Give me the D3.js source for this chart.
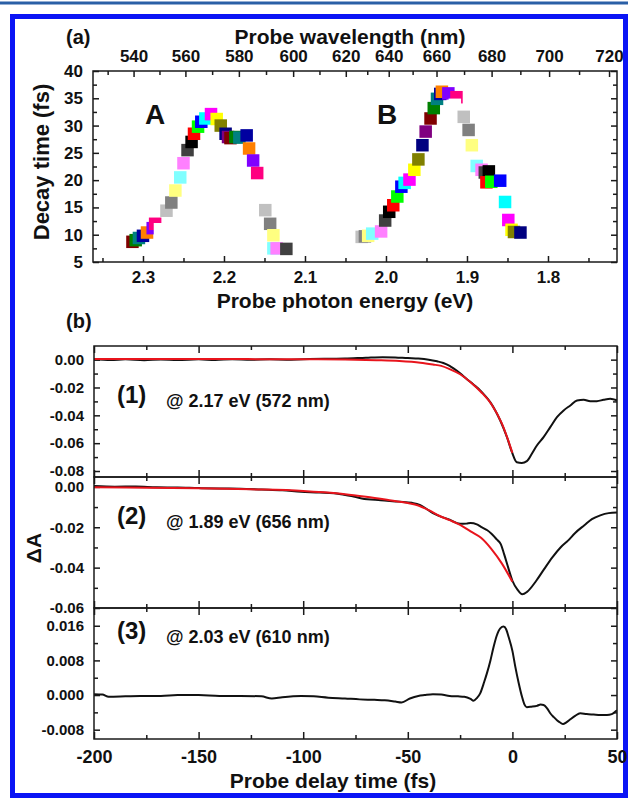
<!DOCTYPE html>
<html>
<head>
<meta charset="utf-8">
<script src="https://cdn.jsdelivr.net/npm/d3@7"></script>
<style>
  body { margin: 0; background: #fff; }
  svg text { font-family: "Liberation Sans", Arial, sans-serif; font-weight: bold; fill: #111; }
</style>
</head>
<body>
<div id="chart"></div>
<script>
// ---- panel (a): decay time vs probe photon energy ----
const energyA = [2.313, 2.309, 2.305, 2.300, 2.295, 2.288, 2.285, 2.279, 2.271, 2.265, 2.260, 2.254, 2.250,
  2.245, 2.240, 2.237, 2.232, 2.228, 2.223, 2.216, 2.209, 2.204, 2.198, 2.195, 2.192, 2.186, 2.181,
  2.172, 2.169, 2.164, 2.159, 2.153, 2.149, 2.143, 2.139, 2.139, 2.135, 2.123];
const decayA = [8.7, 9.0, 9.4, 9.8, 10.4, 11.2, 12.0, 11.0, 14.4, 15.9, 18.1, 20.5, 23.1,
  25.5, 27.0, 28.5, 29.8, 30.7, 31.3, 32.1, 31.2, 30.0, 28.5, 27.9, 27.7, 27.9, 27.8,
  28.2, 25.8, 23.6, 21.3, 18.0, 14.5, 12.0, 9.9, 7.5, 7.5, 7.4];
const energyB = [2.030, 2.026, 2.022, 2.017, 2.006, 2.001, 1.996, 1.991, 1.986, 1.981, 1.977, 1.971, 1.965,
  1.960, 1.955, 1.951, 1.945, 1.941, 1.937, 1.933, 1.931, 1.923, 1.913, 1.915, 1.904, 1.898, 1.894,
  1.888, 1.882, 1.878, 1.873, 1.876, 1.870, 1.859, 1.853, 1.849, 1.845, 1.842, 1.834];
const decayB = [9.6, 9.7, 9.8, 10.2, 10.6, 12.6, 14.2, 15.4, 17.0, 18.8, 19.5, 20.1, 21.9,
  23.8, 26.4, 28.9, 31.3, 33.2, 34.9, 35.8, 36.2, 35.9, 35.2, 33.8, 31.6, 29.2, 26.4,
  22.6, 21.9, 21.4, 21.6, 19.6, 19.7, 19.9, 16.0, 12.7, 10.9, 10.5, 10.4];

const energyTicks = [2.3, 2.2, 2.1, 2.0, 1.9, 1.8];
const decayTicks = [5, 10, 15, 20, 25, 30, 35, 40];
const wavelengthTicks = [540, 560, 580, 600, 620, 640, 660, 680, 700, 720];
// photon energy under each wavelength label, as placed on the top axis
const wavelengthTickEnergy = [2.311, 2.247, 2.181, 2.114, 2.049, 1.996, 1.937, 1.869, 1.798, 1.724];

// ---- panel (b): transient absorption traces, [delay (fs), dA] ----
const delayTicks = [-200, -150, -100, -50, 0, 50];
const trace1Black = [[-200, 0.0003], [-192, -0.0002], [-185, 0.0002], [-176, -0.0004], [-168, 0.0001], [-160, -0.0003],
  [-150, 0.0002], [-142, -0.0002], [-134, 0.0003], [-125, -0.0001], [-116, 0.0002], [-108, 0], [-100, 0.0003],
  [-90, 0.0006], [-80, 0.0008], [-70, 0.0014], [-62, 0.0018], [-56, 0.0016], [-50, 0.0011], [-45, 0.0008],
  [-40, 0], [-36, -0.0012], [-33, -0.0024], [-30, -0.0045], [-28, -0.0065], [-25, -0.0098], [-22, -0.0137],
  [-18.5, -0.018], [-15.4, -0.0221], [-13, -0.026], [-10.6, -0.0305], [-8, -0.037], [-5.8, -0.0437],
  [-2.6, -0.0557], [-0.2, -0.0665], [2.1, -0.0737], [4.5, -0.0742], [6.9, -0.0729], [9.3, -0.0676],
  [11.7, -0.0617], [14.9, -0.0557], [18.1, -0.0485], [21.3, -0.0413], [24.5, -0.0365], [27.7, -0.0329],
  [30.9, -0.0293], [34.1, -0.0288], [37.2, -0.0298], [40.4, -0.0298], [43.6, -0.0288], [46.8, -0.0281], [50, -0.0293]];
const trace1Fit = [[-200, 0.0004], [-150, 0.0004], [-100, 0.0003], [-80, 0.0001], [-65, -0.0004], [-54, -0.001],
  [-44, -0.0022], [-38, -0.0035], [-34, -0.0045], [-30, -0.0068], [-25, -0.0105], [-20, -0.0162],
  [-15, -0.0232], [-10, -0.032], [-5, -0.046], [0, -0.067]];
const trace2Black = [[-200, 0.0004], [-190, 0.0001], [-180, 0.0002], [-170, -0.0002], [-160, -0.0003], [-150, -0.0006],
  [-140, -0.0008], [-130, -0.0009], [-120, -0.0013], [-110, -0.0017], [-101, -0.0024], [-92, -0.0028],
  [-82, -0.0036], [-76, -0.0048], [-72, -0.0057], [-63, -0.0066], [-54, -0.0073], [-48, -0.0079],
  [-44, -0.009], [-38, -0.013], [-30, -0.0163], [-25, -0.0183], [-22, -0.0182], [-20, -0.0179],
  [-17, -0.0186], [-15, -0.0198], [-12, -0.0215], [-10, -0.0232], [-7.5, -0.026], [-5.5, -0.0285],
  [-4, -0.0332], [-2, -0.040], [0, -0.0465], [2.5, -0.051], [4.7, -0.0532], [7, -0.052], [11.4, -0.0465],
  [15, -0.041], [19.1, -0.0349], [23, -0.030], [26.7, -0.0265], [30, -0.0228], [34.4, -0.019],
  [38, -0.016], [42, -0.0141], [46, -0.013], [50, -0.0127]];
const trace2Fit = [[-200, -0.0002], [-175, -0.0004], [-150, -0.0007], [-125, -0.0012], [-100, -0.002], [-90, -0.0027],
  [-80, -0.0036], [-70, -0.0049], [-60, -0.0064], [-50, -0.008], [-45, -0.0092], [-40, -0.0115],
  [-35, -0.0143], [-30, -0.0165], [-25, -0.0188], [-20, -0.022], [-15, -0.0252], [-10, -0.0308],
  [-5, -0.038], [0, -0.047]];
const trace3Black = [[-200, 0.0002], [-196, 0.0001], [-193, -0.0004], [-185, -0.0003], [-178, -0.0002], [-168, -0.0002],
  [-160, 0], [-150, 0], [-140, -0.0002], [-130, -0.0002], [-120, -0.0003], [-115, -0.0008], [-110, -0.0005],
  [-101, -0.0002], [-95, -0.0003], [-88, -0.0006], [-80, -0.0008], [-73, -0.001], [-66, -0.0011],
  [-61, -0.0012], [-56, -0.0015], [-53, -0.0017], [-49, -0.0008], [-45, -0.0002], [-42, 0], [-38, 0.0002],
  [-34, 0.0001], [-30, -0.0002], [-26, -0.0003], [-23, -0.0004], [-20, -0.0009], [-18.6, -0.0013],
  [-17, -0.0007], [-15.4, 0.0004], [-13.5, 0.003], [-12.2, 0.005], [-10.5, 0.008], [-9, 0.0111],
  [-7.5, 0.0137], [-5.8, 0.0154], [-4.2, 0.0158], [-3, 0.0152], [-1.8, 0.0134], [0, 0.0102], [1.4, 0.0065],
  [3, 0.0028], [4.6, -0.0004], [5.8, -0.0022], [6.9, -0.0028], [9, -0.0027], [11.7, -0.0025],
  [13.5, -0.0022], [14.9, -0.0023], [16.5, -0.003], [18.1, -0.0042], [19.8, -0.0051], [21.3, -0.0058],
  [23, -0.0064], [24.2, -0.0067], [25.8, -0.0063], [27.7, -0.0056], [30, -0.0048], [32.4, -0.0042],
  [35.5, -0.0044], [38.8, -0.0045], [42, -0.0046], [45.2, -0.0046], [47.5, -0.0044], [49.2, -0.0038], [50, -0.0035]];

const panelLabels = ["(1)", "(2)", "(3)"];
const panelNotes = ["@ 2.17 eV (572 nm)", "@ 1.89 eV (656 nm)", "@ 2.03 eV (610 nm)"];
const panelDomains = [[-0.0843, 0.0098], [-0.06, 0.0049], [-0.01015, 0.0201]];
const panelMajor = [[0, -0.02, -0.04, -0.06, -0.08], [0, -0.02, -0.04, -0.06], [0.016, 0.008, 0, -0.008]];
const panelMinor = [[-0.01, -0.03, -0.05, -0.07], [-0.01, -0.03, -0.05], [0.012, 0.004, -0.004]];

// Origin default colour cycle used for the squares
const originColors = ["#000000", "#ff0000", "#00ff00", "#0000ff", "#00ffff", "#ff00ff", "#ffff00", "#808000",
  "#000080", "#800080", "#800000", "#008000", "#008080", "#0000a0", "#ff8000", "#8000ff",
  "#ff0080", "#ffffff", "#c0c0c0", "#808080", "#ffff80", "#80ffff", "#ff80ff", "#404040"];
const colorStartA = 10, colorStartB = 18;

const W = 628, H = 799;
const ink = "#1a1a1a";
const minus = (s) => s.replace("\u2212", "-");

const svg = d3.select("#chart").append("svg").attr("width", W).attr("height", H);

// outer frame
svg.append("line").attr("x1", 0).attr("x2", W).attr("y1", 3).attr("y2", 3)
  .attr("stroke", "#2a5fa6").attr("stroke-width", 3);
svg.append("rect").attr("x", 12.5).attr("y", 16.5).attr("width", 613).attr("height", 779)
  .attr("fill", "none").attr("stroke", "#0a14f5").attr("stroke-width", 5);

function styleAxis(g) {
  g.select(".domain").remove();
  g.selectAll(".tick line").attr("stroke", ink).attr("stroke-width", 1.5);
  g.selectAll(".tick text").attr("fill", ink).attr("font-family", "Liberation Sans, Arial, sans-serif")
    .attr("font-weight", "bold");
}

// ================= panel (a) =================
const A = { left: 93, right: 617, top: 71, bottom: 262 };
const xE = d3.scaleLinear().domain([2.3617, 1.7148]).range([A.left, A.right]);
const yT = d3.scaleLinear().domain([5, 40]).range([A.bottom, A.top]);
const wlToE = d3.scaleLinear().domain(wavelengthTicks).range(wavelengthTickEnergy);
const xW = (w) => xE(wlToE(w));

const ga = svg.append("g");
const energyMinor = d3.range(2.35, 1.70, -0.05).filter(v => energyTicks.every(t => Math.abs(t - v) > 1e-6));
const decayMinor = d3.range(7.5, 40, 5);
const wlMinor = d3.range(530, 721, 20);

ga.append("g").attr("transform", `translate(0,${A.bottom})`)
  .call(d3.axisBottom(xE).tickValues(energyTicks).tickFormat(d3.format(".1f")).tickSize(-6).tickPadding(9))
  .call(styleAxis).style("font-size", "17px");
ga.append("g").attr("transform", `translate(0,${A.bottom})`)
  .call(d3.axisBottom(xE).tickValues(energyMinor).tickFormat("").tickSize(-4)).call(styleAxis);
ga.append("g").attr("transform", `translate(${A.left},0)`)
  .call(d3.axisLeft(yT).tickValues(decayTicks).tickSize(-6).tickPadding(10))
  .call(styleAxis).style("font-size", "17px");
ga.append("g").attr("transform", `translate(${A.left},0)`)
  .call(d3.axisLeft(yT).tickValues(decayMinor).tickFormat("").tickSize(-4)).call(styleAxis);
ga.append("g").attr("transform", `translate(${A.right},0)`)
  .call(d3.axisRight(yT).tickValues(decayTicks).tickFormat("").tickSize(-6)).call(styleAxis);
ga.append("g").attr("transform", `translate(${A.right},0)`)
  .call(d3.axisRight(yT).tickValues(decayMinor).tickFormat("").tickSize(-4)).call(styleAxis);

// top wavelength axis
const topAxis = ga.append("g");
topAxis.selectAll("line.maj").data(wavelengthTicks).enter().append("line")
  .attr("x1", d => xW(d)).attr("x2", d => xW(d)).attr("y1", A.top).attr("y2", A.top + 6)
  .attr("stroke", ink).attr("stroke-width", 1.5);
topAxis.selectAll("line.min").data(wlMinor).enter().append("line")
  .attr("x1", d => xW(d)).attr("x2", d => xW(d)).attr("y1", A.top).attr("y2", A.top + 4)
  .attr("stroke", ink).attr("stroke-width", 1.5);
topAxis.selectAll("text").data(wavelengthTicks).enter().append("text")
  .attr("x", d => xW(d)).attr("y", A.top - 9).attr("text-anchor", "middle")
  .style("font-size", "17px").text(d => d);

ga.append("rect").attr("x", A.left).attr("y", A.top)
  .attr("width", A.right - A.left).attr("height", A.bottom - A.top)
  .attr("fill", "none").attr("stroke", ink).attr("stroke-width", 1.5);

const color = d3.scaleOrdinal().domain(d3.range(24)).range(originColors);
const sq = 12.5;
const pointsA = energyA.map((e, i) => ({ e, t: decayA[i], c: (colorStartA + i) % 24 }));
const pointsB = energyB.map((e, i) => ({ e, t: decayB[i], c: (colorStartB + i) % 24 }));

ga.selectAll(".sqA").data(pointsA).enter().append("rect").attr("class", "sqA")
  .attr("x", d => xE(d.e) - sq / 2).attr("y", d => yT(d.t) - sq / 2)
  .attr("width", sq).attr("height", sq).attr("fill", d => color(d.c));
ga.selectAll(".sqB").data(pointsB).enter().append("rect").attr("class", "sqB")
  .attr("x", d => xE(d.e) - sq / 2).attr("y", d => yT(d.t) - sq / 2)
  .attr("width", sq).attr("height", sq).attr("fill", d => color(d.c));

ga.append("text").attr("x", 145).attr("y", 124).style("font-size", "28px").text("A");
ga.append("text").attr("x", 377).attr("y", 124).style("font-size", "28px").text("B");

ga.append("text").attr("x", 66).attr("y", 44).style("font-size", "20px").text("(a)");
ga.append("text").attr("x", 350).attr("y", 44).attr("text-anchor", "middle")
  .style("font-size", "21px").text("Probe wavelength (nm)");
ga.append("text").attr("x", 345).attr("y", 308).attr("text-anchor", "middle")
  .style("font-size", "21px").text("Probe photon energy (eV)");
ga.append("text").attr("transform", "translate(49,162) rotate(-90)").attr("text-anchor", "middle")
  .style("font-size", "22px").text("Decay time (fs)");

// ================= panel (b) =================
const B = { left: 94, right: 617, top: 346, h: 131 };
const xT = d3.scaleLinear().domain([-200, 50]).range([B.left, B.right]);
const delayMinor = d3.range(-175, 50, 50);
const traces = [[trace1Black, trace1Fit], [trace2Black, trace2Fit], [trace3Black, null]];
const noteY = [61, 51, 35];

svg.append("text").attr("x", 66).attr("y", 328).style("font-size", "20px").text("(b)");

traces.forEach((tr, k) => {
  const top = B.top + k * B.h, bottom = top + B.h;
  const y = d3.scaleLinear().domain(panelDomains[k]).range([bottom, top]);
  const g = svg.append("g");
  const fmt = k === 2 ? d3.format(".3f") : d3.format(".2f");

  g.append("clipPath").attr("id", "clip" + k).append("rect")
    .attr("x", B.left).attr("y", top).attr("width", B.right - B.left).attr("height", B.h);

  // x ticks on bottom and top edges, pointing inward
  [[bottom, d3.axisBottom], [top, d3.axisTop]].forEach(([yy, axisFn]) => {
    g.append("g").attr("transform", `translate(0,${yy})`)
      .call(axisFn(xT).tickValues(delayTicks).tickFormat("").tickSize(-7)).call(styleAxis);
    g.append("g").attr("transform", `translate(0,${yy})`)
      .call(axisFn(xT).tickValues(delayMinor).tickFormat("").tickSize(-4)).call(styleAxis);
  });
  g.append("g").attr("transform", `translate(${B.left},0)`)
    .call(d3.axisLeft(y).tickValues(panelMajor[k]).tickFormat(d => minus(fmt(d))).tickSize(-6).tickPadding(10))
    .call(styleAxis).style("font-size", "15px");
  g.append("g").attr("transform", `translate(${B.left},0)`)
    .call(d3.axisLeft(y).tickValues(panelMinor[k]).tickFormat("").tickSize(-4)).call(styleAxis);
  g.append("g").attr("transform", `translate(${B.right},0)`)
    .call(d3.axisRight(y).tickValues(panelMajor[k]).tickFormat("").tickSize(-6)).call(styleAxis);
  g.append("g").attr("transform", `translate(${B.right},0)`)
    .call(d3.axisRight(y).tickValues(panelMinor[k]).tickFormat("").tickSize(-4)).call(styleAxis);

  const line = d3.line().x(d => xT(d[0])).y(d => y(d[1])).curve(d3.curveMonotoneX);
  g.append("path").datum(tr[0]).attr("d", line).attr("clip-path", `url(#clip${k})`)
    .attr("fill", "none").attr("stroke", "#111").attr("stroke-width", 2).attr("stroke-linejoin", "round");
  if (tr[1]) {
    g.append("path").datum(tr[1]).attr("d", line).attr("clip-path", `url(#clip${k})`)
      .attr("fill", "none").attr("stroke", "#e8141c").attr("stroke-width", 2);
  }

  g.append("rect").attr("x", B.left).attr("y", top).attr("width", B.right - B.left).attr("height", B.h)
    .attr("fill", "none").attr("stroke", ink).attr("stroke-width", 1.5);

  g.append("text").attr("x", 117).attr("y", top + noteY[k] - 4).style("font-size", "24px").text(panelLabels[k]);
  g.append("text").attr("x", 166).attr("y", top + noteY[k]).style("font-size", "18px").text(panelNotes[k]);
});

const lastBottom = B.top + 3 * B.h;
svg.append("g").attr("transform", `translate(0,${lastBottom})`)
  .call(d3.axisBottom(xT).tickValues(delayTicks).tickSize(0).tickPadding(11))
  .call(styleAxis).style("font-size", "18px")
  .call(g => g.selectAll(".tick text").text(d => minus(d3.format("d")(d))));

svg.append("text").attr("x", 333).attr("y", 788).attr("text-anchor", "middle")
  .style("font-size", "21px").text("Probe delay time (fs)");
svg.append("text").attr("transform", "translate(41,548) rotate(-90)").attr("text-anchor", "middle")
  .style("font-size", "21px").text("\u0394A");
</script>
</body>
</html>
